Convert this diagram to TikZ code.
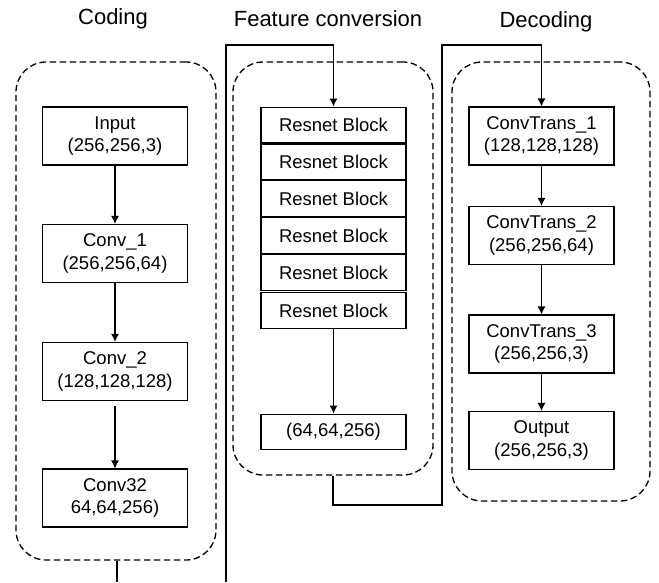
\documentclass[tikz,border=0pt]{standalone}
\usepackage{fontspec}
\setmainfont{Liberation Sans}
\usepackage{tikz}
\usetikzlibrary{positioning}
\usetikzlibrary{calc}
\usetikzlibrary{arrows.meta}

\begin{document}
\begin{tikzpicture}[
    x=1pt, y=-1pt,     % one unit is one pixel, y grows downwards
    node distance=0pt, % stacked blocks touch
    ]
% -------------------------------------------------
\tikzset{
  base/.style={draw, line width=1.1pt, align=center, inner sep=0pt, font=\fontsize{18.5}{22.5}\selectfont},
  layer/.style={base, rectangle, minimum width=145pt, minimum height=58pt},
  resblk/.style={base, rectangle, minimum width=145pt, minimum height=35.8pt},
  stage/.style={draw, line width=1.3pt, dash pattern=on 6.5pt off 3.5pt, rounded corners=30pt},
  title/.style={font=\fontsize{22}{26}\selectfont},
  wire/.style={draw, line width=1.2pt},
  line/.style={draw, line width=1.2pt, -{Latex[length=8pt, width=8pt]}}
}
\useasboundingbox (0,0) rectangle (659,582);
% -------------------------------------------------
% Titles
\node [title] (tcod) at (113,19) {Coding};
\node [title] (tfea) at (328,19) {Feature conversion};
\node [title] (tdec) at (546,22) {Decoding};

% Dashed stages
\node [stage, minimum width=200pt, minimum height=498pt] (enc) at (116,311) {};
\node [stage, minimum width=200pt, minimum height=413pt] (fea) at (333,268.5) {};
\node [stage, minimum width=198pt, minimum height=439pt] (dec) at (551,281.5) {};

% Coding
\node [layer] (inp) at (115,136) {Input\\(256,256,3)};
\node [layer] (cv1) at (115,253.5) {Conv\_1\\(256,256,64)};
\node [layer] (cv2) at (115,371.5) {Conv\_2\\(128,128,128)};
\node [layer] (cv3) at (115,498) {Conv32\\64,64,256)};

% Feature conversion
\node [resblk] (rb1) at (333.5,125) {Resnet Block};
\node [resblk, below=of rb1] (rb2) {Resnet Block};
\node [resblk, below=of rb2] (rb3) {Resnet Block};
\node [resblk, below=of rb3] (rb4) {Resnet Block};
\node [resblk, below=of rb4] (rb5) {Resnet Block};
\node [resblk] (rb6) at (333.5,310.5) {Resnet Block};
\node [resblk] (feo) at (333.5,432) {(64,64,256)};

% Decoding
\node [layer] (ct1) at (541.5,136) {ConvTrans\_1\\(128,128,128)};
\node [layer] (ct2) at (541.5,235.5) {ConvTrans\_2\\(256,256,64)};
\node [layer] (ct3) at (541.5,344) {ConvTrans\_3\\(256,256,3)};
\node [layer] (out) at (541.5,440.5) {Output\\(256,256,3)};

% Turning points of the links between stages
\coordinate (encout) at (117,582);
\coordinate (fbot) at (226,582);
\coordinate (ftop) at (226,45);
\coordinate (fturn) at (442,505);
\coordinate (dtop) at (442,45);

% Links
\path [line] (inp) -- (cv1);
\path [line] (cv1) -- (cv2);
\path [line] ([yshift=-5pt]cv2.south) -- (cv3);
\path [line] (rb6) -- (feo);
\path [line] (ct1) -- (ct2);
\path [line] (ct2) -- (ct3);
\path [line] (ct3) -- (out);

\path [wire] (enc.south -| encout) -- (encout);
\path [line] (fbot) -- (ftop) -| (rb1.north);
\path [line] (fea.south) |- (fturn) -- (dtop) -| (ct1.north);

\end{tikzpicture}
\end{document}
